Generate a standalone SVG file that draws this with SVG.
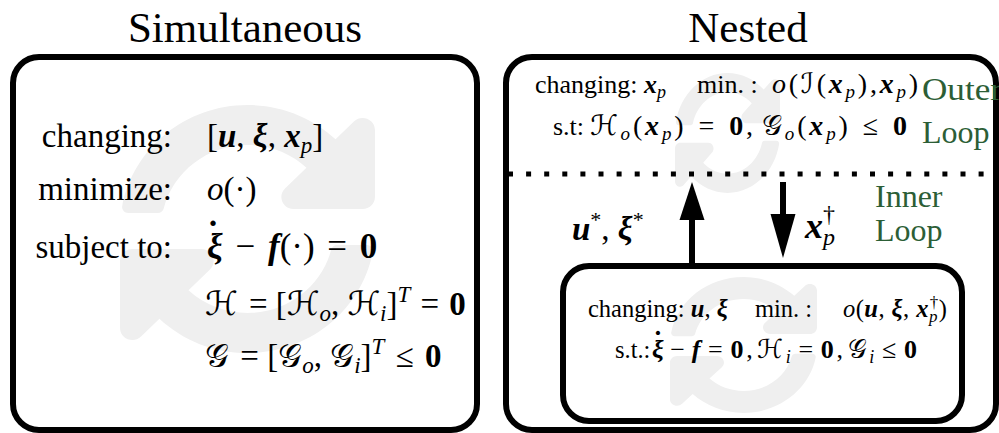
<svg xmlns="http://www.w3.org/2000/svg" xmlns:xlink="http://www.w3.org/1999/xlink" width="999" height="433" viewBox="0 0 999 433">
<style>
text{font-family:"Liberation Serif","DejaVu Serif",serif;fill:#000}
.it{font-style:italic}
.bi{font-style:italic;font-weight:bold}
.b{font-weight:bold}
.cal{font-family:"DejaVu Serif","DejaVu Sans","Noto Sans",serif;font-style:normal}
.green{fill:#2c5e36}
.box{fill:none;stroke:#000;stroke-width:6}
.arrow{fill:#000;stroke:none}
.shaft{stroke:#000;stroke-width:6}
</style>
<defs>
<path id="sync" fill="#efefef" d="M370.72 133.28C339.458 104.008 298.888 87.962 255.848 88c-77.458.068-144.328 53.178-162.791 126.85-1.344 5.363-6.122 9.15-11.651 9.15H24.103c-7.498 0-13.194-6.807-11.807-14.176C33.933 94.924 134.813 8 256 8c66.448 0 126.791 26.136 171.315 68.685L463.03 40.97C478.149 25.851 504 36.559 504 57.941V192c0 13.255-10.745 24-24 24H345.941c-21.382 0-32.090-25.851-16.971-40.971l41.750-41.749zM32 296h134.059c21.382 0 32.090 25.851 16.971 40.971l-41.750 41.750c31.262 29.273 71.835 45.319 114.876 45.280 77.418-.070 144.315-53.144 162.787-126.849 1.344-5.363 6.122-9.150 11.651-9.150h57.304c7.498 0 13.194 6.807 11.807 14.176C478.067 417.076 377.187 504 256 504c-66.448 0-126.791-26.136-171.315-68.685L48.970 471.030C33.851 486.149 8 475.441 8 454.059V320c0-13.255 10.745-24 24-24z"/>
</defs>

<!-- titles -->
<text x="245" y="42" font-size="43" text-anchor="middle">Simultaneous</text>
<text x="748" y="42" font-size="43" text-anchor="middle">Nested</text>

<!-- Simultaneous node -->
<g id="simultaneous">
<use xlink:href="#sync" transform="translate(115.9,101) scale(0.514,0.5)"/>
<rect class="box" x="13" y="57" width="464" height="373" rx="26"/>
<g font-size="33">
<text x="172" y="147" text-anchor="end">changing:</text>
<text x="172" y="200" text-anchor="end">minimize:</text>
<text x="172" y="258" text-anchor="end">subject to:</text>
<text x="207" y="147">[<tspan class="bi">u</tspan>, <tspan class="bi">ξ</tspan>, <tspan class="bi">x</tspan><tspan class="it" font-size="23" dy="6">p</tspan><tspan dy="-6">]</tspan></text>
<text x="207" y="200"><tspan class="it">o</tspan>(·)</text>
<text x="207" y="258" font-size="35"><tspan class="bi">ξ</tspan><tspan dx="4"> − </tspan><tspan class="bi" dx="4">f</tspan>(·)<tspan dx="4"> = </tspan><tspan class="b" dx="4">0</tspan></text>
<text x="213" y="246" font-size="36" class="b" text-anchor="middle">˙</text>
<text x="205" y="315"><tspan class="cal">ℋ</tspan><tspan dx="3"> = </tspan>[<tspan class="cal">ℋ</tspan><tspan class="it" font-size="23" dy="6">o</tspan><tspan dy="-6">, </tspan><tspan class="cal">ℋ</tspan><tspan class="it" font-size="23" dy="6">i</tspan><tspan dy="-6">]</tspan><tspan class="it" font-size="23" dy="-13">T</tspan><tspan dy="13" dx="2"> = </tspan><tspan class="b" dx="2">0</tspan></text>
<text x="205" y="367"><tspan class="cal">𝒢</tspan><tspan dx="3"> = </tspan>[<tspan class="cal">𝒢</tspan><tspan class="it" font-size="23" dy="6">o</tspan><tspan dy="-6">, </tspan><tspan class="cal">𝒢</tspan><tspan class="it" font-size="23" dy="6">i</tspan><tspan dy="-6">]</tspan><tspan class="it" font-size="23" dy="-13">T</tspan><tspan dy="13" dx="3"> ≤ </tspan><tspan class="b" dx="3">0</tspan></text>
</g>
</g>

<!-- Nested node (outer loop) -->
<g id="nested-outer">
<use xlink:href="#sync" transform="translate(673.3,71) scale(0.2117,0.242)"/>
<rect class="box" x="506" y="57" width="490" height="373" rx="26"/>
<line x1="508" y1="174" x2="999" y2="174" stroke="#000" stroke-width="5" stroke-dasharray="5 13.1"/>
<g font-size="26">
<text x="535" y="93">changing: <tspan class="bi">x</tspan><tspan class="it" font-size="18" dy="5">p</tspan></text>
<text x="697" y="93">min. :</text>
<text x="772" y="93" font-size="28" textLength="146" lengthAdjust="spacing"><tspan class="it">o</tspan>(<tspan class="cal">ℐ</tspan>(<tspan class="bi">x</tspan><tspan class="it" font-size="19" dy="5">p</tspan><tspan dy="-5">),</tspan><tspan class="bi">x</tspan><tspan class="it" font-size="19" dy="5">p</tspan><tspan dy="-5">)</tspan></text>
<text x="553" y="135">s.t:</text>
<text x="590" y="135" font-size="28" textLength="317" lengthAdjust="spacing"><tspan class="cal">ℋ</tspan><tspan class="it" font-size="19" dy="5">o</tspan><tspan dy="-5">(</tspan><tspan class="bi">x</tspan><tspan class="it" font-size="19" dy="5">p</tspan><tspan dy="-5">)</tspan><tspan dx="12">=</tspan><tspan class="b" dx="12">0</tspan>,<tspan class="cal" dx="6">𝒢</tspan><tspan class="it" font-size="19" dy="5">o</tspan><tspan dy="-5">(</tspan><tspan class="bi">x</tspan><tspan class="it" font-size="19" dy="5">p</tspan><tspan dy="-5">)</tspan><tspan dx="12">≤</tspan><tspan class="b" dx="12">0</tspan></text>
</g>
<text class="green" x="922" y="100" font-size="32" textLength="80" lengthAdjust="spacingAndGlyphs">Outer</text>
<text class="green" x="922" y="143" font-size="32">Loop</text>
<text class="green" x="875" y="207" font-size="32">Inner</text>
<text class="green" x="875" y="241" font-size="32">Loop</text>
</g>

<!-- Inner loop node -->
<g id="inner-loop">
<use xlink:href="#sync" transform="translate(667.6,274.8) scale(0.2964,0.274)"/>
<rect class="box" x="563" y="266" width="399" height="155" rx="26"/>
<g font-size="24.5">
<text x="588" y="317">changing: <tspan class="bi">u</tspan>, <tspan class="bi">ξ</tspan></text>
<text x="755" y="317">min. :</text>
<text x="843" y="317" textLength="104" lengthAdjust="spacing"><tspan class="it">o</tspan>(<tspan class="bi">u</tspan>, <tspan class="bi">ξ</tspan>, <tspan class="bi">x</tspan><tspan class="it" font-size="17" dy="5">p</tspan><tspan font-size="17" dx="-8" dy="-14">†</tspan><tspan dy="9">)</tspan></text>
<text x="615" y="358">s.t.:</text>
<text x="652" y="358" font-size="26" textLength="265" lengthAdjust="spacing"><tspan class="bi">ξ</tspan><tspan dx="4">−</tspan><tspan class="bi" dx="4">f</tspan><tspan dx="5">=</tspan><tspan class="b" dx="5">0</tspan>,<tspan class="cal" dx="2">ℋ</tspan><tspan class="it" font-size="18" dy="5">i</tspan><tspan dy="-5" dx="5">=</tspan><tspan class="b" dx="5">0</tspan>,<tspan class="cal" dx="2">𝒢</tspan><tspan class="it" font-size="18" dy="5">i</tspan><tspan dy="-5" dx="5">≤</tspan><tspan class="b" dx="5">0</tspan></text>
<text x="658" y="350" font-size="28" class="b" text-anchor="middle">˙</text>
</g>
</g>

<!-- connectors -->
<g id="connectors">
<line class="shaft" x1="692" y1="266" x2="692" y2="215"/>
<polygon class="arrow" points="679.5,220 704.5,220 692,182"/>
<line class="shaft" x1="783" y1="182" x2="783" y2="218"/>
<polygon class="arrow" points="770.5,214 795.5,214 783,258"/>
<text x="572" y="240" font-size="33"><tspan class="bi">u</tspan><tspan font-size="22" dy="-13">*</tspan><tspan dy="13">, </tspan><tspan class="bi">ξ</tspan><tspan font-size="22" dy="-13">*</tspan></text>
<text x="805" y="238" font-size="36"><tspan class="bi">x</tspan><tspan class="it" font-size="24" dy="7">p</tspan><tspan font-size="24" dx="-12" dy="-23">†</tspan></text>
</g>
</svg>
